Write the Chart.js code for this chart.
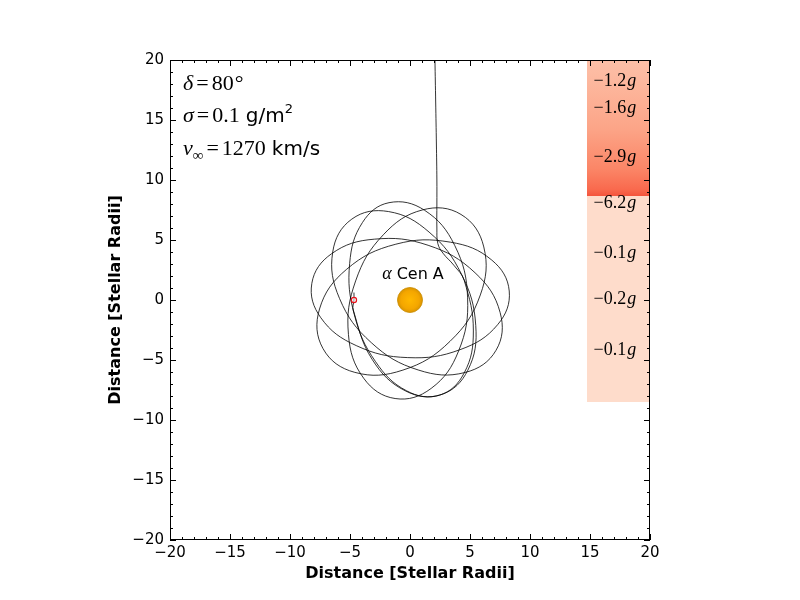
<!DOCTYPE html>
<html>
<head>
<meta charset="utf-8">
<script src="https://cdn.jsdelivr.net/npm/chart.js@4.4.1/dist/chart.umd.min.js"></script>
<style>
  body { margin: 0; background: #fff; }
  canvas { display: block; }
</style>
</head>
<body>
<canvas id="orbitChart" width="800" height="600"></canvas>
<script>
const axisMin = -20;
const axisMax = 20;
const majorStep = 5;
const minorStep = 1;

// sail trajectory, in stellar radii
const pathX = [-4.67, -4.67, -4.73, -3.14, -0.39, 2.61, 4.82, 5.48, 4.29, 1.59, -1.79,
  -4.85, -6.44, -5.87, -3.23, 0.68, 4.59, 7.17, 7.51, 5.42, 1.51, -2.97, -6.53,
  -8.18, -7.43, -4.48, -0.19, 4.17, 7.30, 8.27, 6.81, 3.36, -1.18, -5.28, -7.54,
  -7.25, -4.60, -0.59, 3.34, 5.86, 6.15, 4.25, 1.05, -2.22, -4.53, -5.13, -3.86,
  -1.24, 1.76, 4.05, 4.80, 3.73, 1.21, -1.75, -3.96, -5.03, -4.64, -2.89, -0.28,
  2.46, 4.51, 5.28, 4.52, 3.65, 2.75, 2.32, 2.24, 2.24, 2.24, 2.20, 2.14, 2.08];
const pathY = [0.62, 0.0, -0.83, -4.97, -7.57, -7.88, -5.85, -2.12, 2.15, 5.66, 7.37,
  6.74, 4.00, 0.12, -3.55, -5.83, -6.04, -4.19, -1.04, 2.27, 4.56, 5.07, 3.86,
  1.39, -1.48, -3.80, -4.80, -4.14, -2.06, 0.75, 3.33, 4.82, 4.65, 2.56, -0.75,
  -4.05, -6.03, -5.84, -3.44, 0.42, 4.42, 7.13, 7.51, 5.44, 1.59, -2.87, -6.52,
  -8.21, -7.37, -4.25, 0.18, 4.54, 7.48, 8.11, 6.46, 3.03, -1.22, -5.11, -7.57,
  -7.93, -6.09, -2.58, 1.62, 2.90, 3.90, 4.70, 6.00, 8.00, 10.0, 13.0, 16.5, 20.0];

const starX = [0];
const starY = [0];
const startX = [-4.67];
const startY = [0];

// acceleration strip on the right
const bandX = [14.75, 20];
const bandEdges = [20, 8.67, -8.5];
const accelLabels = ['\u22121.2', '\u22121.6', '\u22122.9', '\u22126.2', '\u22120.1', '\u22120.2', '\u22120.1'];
const accelY = [18.25, 16.0, 11.92, 8.08, 3.92, 0.08, -4.17];
const accelX = 15.3;

const mathIt = 'italic 22px "Liberation Serif"';
const mathRm = '22px "Liberation Serif"';
const mathSmall = '15px "Liberation Serif"';
const sansText = '20px "DejaVu Sans"';
const sansSmall = '13px "DejaVu Sans"';

function toPoints(xs, ys) {
  return xs.map((v, i) => ({x: v, y: ys[i]}));
}

function upperBandGradient(chart) {
  if (!chart.chartArea) return '#fc9272';
  const y = chart.scales.y;
  const g = chart.ctx.createLinearGradient(0, y.getPixelForValue(bandEdges[0]), 0, y.getPixelForValue(bandEdges[1]));
  g.addColorStop(0, '#fdc0a8');
  g.addColorStop(0.5, '#fca588');
  g.addColorStop(0.8, '#fb8667');
  g.addColorStop(0.95, '#f96a4e');
  g.addColorStop(1, '#f4543c');
  return g;
}

function starGradient(chart) {
  if (!chart.chartArea) return '#f5a800';
  const px = chart.scales.x.getPixelForValue(starX[0]);
  const py = chart.scales.y.getPixelForValue(starY[0]);
  const g = chart.ctx.createRadialGradient(px, py, 0, px, py, 13);
  g.addColorStop(0, '#ffb800');
  g.addColorStop(0.7, '#f4a600');
  g.addColorStop(1, '#d69200');
  return g;
}

function drawRuns(ctx, x, y, runs) {
  let cx = x;
  runs.forEach(r => {
    ctx.font = r.font;
    ctx.fillText(r.text, cx + (r.pre || 0), y + (r.dy || 0));
    cx += (r.pre || 0) + ctx.measureText(r.text).width + (r.post || 0);
  });
  return cx - x;
}

function measureRuns(ctx, runs) {
  let w = 0;
  runs.forEach(r => {
    ctx.font = r.font;
    w += (r.pre || 0) + ctx.measureText(r.text).width + (r.post || 0);
  });
  return w;
}

const overlayPlugin = {
  id: 'overlay',
  afterDraw(chart) {
    const {ctx, chartArea: area} = chart;
    const x = chart.scales.x;
    const y = chart.scales.y;
    ctx.save();
    ctx.strokeStyle = '#000';
    ctx.lineWidth = 1;

    // ticks point inwards on all four sides
    ctx.beginPath();
    for (let v = axisMin; v <= axisMax; v += minorStep) {
      const len = v % majorStep === 0 ? 6 : 3;
      const px = Math.round(x.getPixelForValue(v)) + 0.5;
      const py = Math.round(y.getPixelForValue(v)) + 0.5;
      ctx.moveTo(px, area.bottom); ctx.lineTo(px, area.bottom - len);
      ctx.moveTo(px, area.top); ctx.lineTo(px, area.top + len);
      ctx.moveTo(area.left, py); ctx.lineTo(area.left + len, py);
      ctx.moveTo(area.right, py); ctx.lineTo(area.right - len, py);
    }
    ctx.stroke();
    ctx.strokeRect(area.left + 0.5, area.top + 0.5, area.width - 1, area.height - 1);

    ctx.fillStyle = '#000';
    ctx.textBaseline = 'alphabetic';
    ctx.textAlign = 'left';

    // parameters, top left
    const tx = area.left + 13;
    drawRuns(ctx, tx, area.top + 30, [
      {text: '\u03b4', font: mathIt},
      {text: '=', font: mathRm, pre: 3, post: 3},
      {text: '80', font: mathRm},
      {text: '\u00b0', font: mathRm, pre: 1}
    ]);
    drawRuns(ctx, tx, area.top + 62, [
      {text: '\u03c3', font: mathIt},
      {text: '=', font: mathRm, pre: 3, post: 3},
      {text: '0.1', font: mathRm, post: 6},
      {text: 'g/m', font: sansText},
      {text: '2', font: sansSmall, dy: -9}
    ]);
    drawRuns(ctx, tx, area.top + 95, [
      {text: '\u03bd', font: mathIt},
      {text: '\u221e', font: mathSmall, dy: 5},
      {text: '=', font: mathRm, pre: 3, post: 3},
      {text: '1270', font: mathRm, post: 6},
      {text: 'km/s', font: sansText}
    ]);

    // star label
    const starRuns = [
      {text: '\u03b1', font: 'italic 18px "Liberation Serif"', post: 5},
      {text: 'Cen A', font: '16px "DejaVu Sans"'}
    ];
    const sw = measureRuns(ctx, starRuns);
    drawRuns(ctx, x.getPixelForValue(0.25) - sw / 2, y.getPixelForValue(1.75), starRuns);

    // acceleration labels
    ctx.textBaseline = 'middle';
    accelLabels.forEach((lab, i) => {
      drawRuns(ctx, x.getPixelForValue(accelX), y.getPixelForValue(accelY[i]), [
        {text: lab, font: '18px "Liberation Serif"'},
        {text: 'g', font: 'italic 18px "Liberation Serif"', pre: 1}
      ]);
    });

    // axis titles
    ctx.textBaseline = 'middle';
    ctx.font = 'bold 16px "DejaVu Sans"';
    ctx.textAlign = 'center';
    ctx.fillText('Distance [Stellar Radii]', (area.left + area.right) / 2, 574);
    ctx.translate(116, (area.top + area.bottom) / 2);
    ctx.rotate(-Math.PI / 2);
    ctx.fillText('Distance [Stellar Radii]', 0, 0);
    ctx.restore();
  }
};

const tickFormat = v => v < 0 ? '\u2212' + Math.abs(v) : String(v);

new Chart(document.getElementById('orbitChart').getContext('2d'), {
  type: 'line',
  data: {
    datasets: [
      {
        data: toPoints(starX, starY),
        showLine: false,
        pointRadius: 12.5,
        pointBackgroundColor: ctx => starGradient(ctx.chart),
        pointBorderColor: '#c98c00',
        pointBorderWidth: 0.8,
        order: 0
      },
      {
        data: toPoints(startX, startY),
        showLine: false,
        pointRadius: 2.6,
        pointBackgroundColor: 'rgba(255,255,255,0.5)',
        pointBorderColor: '#e8121a',
        pointBorderWidth: 1.2,
        order: 0
      },
      {
        data: toPoints(pathX, pathY),
        borderColor: '#000',
        borderWidth: 0.8,
        tension: 0.4,
        pointRadius: 0,
        fill: false,
        order: 1
      },
      {
        data: bandX.map(v => ({x: v, y: bandEdges[0]})),
        borderColor: 'rgba(0,0,0,0)',
        borderWidth: 0,
        pointRadius: 0,
        fill: {value: bandEdges[1]},
        backgroundColor: ctx => upperBandGradient(ctx.chart),
        order: 3
      },
      {
        data: bandX.map(v => ({x: v, y: bandEdges[1]})),
        borderColor: 'rgba(0,0,0,0)',
        borderWidth: 0,
        pointRadius: 0,
        fill: {value: bandEdges[2]},
        backgroundColor: '#fedccb',
        order: 3
      }
    ]
  },
  options: {
    responsive: false,
    animation: false,
    events: [],
    devicePixelRatio: 1,
    layout: { padding: { top: 60, right: 150, left: 0, bottom: 0 } },
    plugins: {
      legend: { display: false },
      tooltip: { enabled: false }
    },
    scales: {
      x: {
        type: 'linear',
        min: axisMin,
        max: axisMax,
        grid: { display: false, drawTicks: false, tickLength: 0 },
        border: { display: false },
        ticks: {
          stepSize: majorStep,
          padding: 4,
          color: '#000',
          font: { family: 'DejaVu Sans', size: 15 },
          callback: tickFormat
        },
        afterFit(scale) { scale.height = 60; }
      },
      y: {
        type: 'linear',
        min: axisMin,
        max: axisMax,
        grid: { display: false, drawTicks: false, tickLength: 0 },
        border: { display: false },
        ticks: {
          stepSize: majorStep,
          padding: 6,
          color: '#000',
          font: { family: 'DejaVu Sans', size: 15 },
          callback: tickFormat
        },
        afterFit(scale) { scale.width = 170; }
      }
    }
  },
  plugins: [overlayPlugin]
});
</script>
</body>
</html>
